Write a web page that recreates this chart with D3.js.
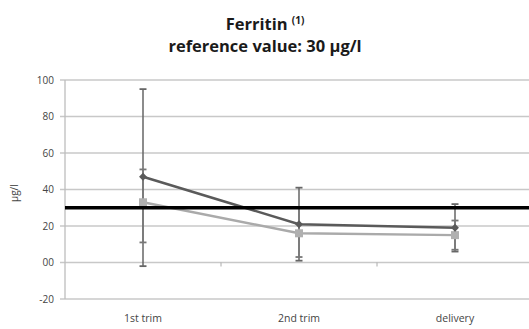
<!DOCTYPE html>
<html>
<head>
<meta charset="utf-8">
<script src="https://cdn.jsdelivr.net/npm/d3@7"></script>
<style>
  body { margin: 0; background: #fff; }
  text { font-family: "Open Sans", "Liberation Sans", sans-serif; }
</style>
</head>
<body>
<div class="chart"></div>
<script>
var categories = ["1st trim", "2nd trim", "delivery"];
var yTicks = [-20, 0, 20, 40, 60, 80, 100];
var yTickLabels = ["-20", "00", "20", "40", "60", "80", "100"];

// series 1 (dark, diamonds) with error bar ends
var mean1 = [47, 21, 19];
var hi1 = [95, 41, 32];
var lo1 = [-2, 1, 6];

// series 2 (light, squares)
var mean2 = [33, 16, 15];
var hi2 = [51, 30, 23];
var lo2 = [11, 3, 7];

var refValue = 30;

var width = 529, height = 329;

var svg = d3.select(".chart")
    .append("svg")
    .attr("width", width)
    .attr("height", height);

var x = d3.scaleBand()
    .domain(categories)
    .range([65, 533])
    .paddingInner(0)
    .paddingOuter(0);

var y = d3.scaleLinear()
    .domain([-20, 100])
    .range([299, 80]);

function cx(c) { return x(c) + x.bandwidth() / 2; }

// title
var title = svg.append("text")
    .attr("x", 265)
    .attr("y", 30)
    .attr("text-anchor", "middle")
    .style("font-weight", "bold")
    .style("font-size", "16.5px")
    .attr("fill", "#1a1a1a");
title.append("tspan").text("Ferritin ");
title.append("tspan")
    .attr("dy", -6)
    .style("font-size", "10px")
    .text("(1)");

svg.append("text")
    .attr("x", 265)
    .attr("y", 52)
    .attr("text-anchor", "middle")
    .style("font-weight", "bold")
    .style("font-size", "16.5px")
    .attr("fill", "#1a1a1a")
    .text("reference value: 30 µg/l");

// gridlines
svg.append("g")
    .selectAll("line")
    .data(yTicks)
    .enter()
    .append("line")
    .attr("x1", 60)
    .attr("x2", width)
    .attr("y1", function (d) { return y(d); })
    .attr("y2", function (d) { return y(d); })
    .attr("stroke", "#c8c8c8")
    .attr("stroke-width", 1.3);

// y axis line
svg.append("line")
    .attr("x1", 65).attr("x2", 65)
    .attr("y1", y(100)).attr("y2", y(-20))
    .attr("stroke", "#bdbdbd")
    .attr("stroke-width", 1.3);

// y tick labels
svg.append("g")
    .selectAll("text")
    .data(yTicks)
    .enter()
    .append("text")
    .attr("x", 54)
    .attr("y", function (d) { return y(d) + 3.5; })
    .attr("text-anchor", "end")
    .style("font-size", "10px")
    .attr("fill", "#444")
    .text(function (d, i) { return yTickLabels[i]; });

// y axis title
svg.append("text")
    .attr("transform", "translate(18," + y(38) + ") rotate(-90)")
    .attr("text-anchor", "middle")
    .style("font-size", "10px")
    .attr("fill", "#444")
    .text("µg/l");

// x axis ticks at zero line
svg.append("g")
    .selectAll("line")
    .data(categories.slice(1))
    .enter()
    .append("line")
    .attr("x1", function (d) { return x(d); })
    .attr("x2", function (d) { return x(d); })
    .attr("y1", y(0))
    .attr("y2", y(0) + 4)
    .attr("stroke", "#aaa");

// category labels
svg.append("g")
    .selectAll("text")
    .data(categories)
    .enter()
    .append("text")
    .attr("x", cx)
    .attr("y", 322)
    .attr("text-anchor", "middle")
    .style("font-size", "10.5px")
    .attr("fill", "#444")
    .text(function (d) { return d; });

// error bars
function errorBars(hi, lo, color) {
    var g = svg.append("g");
    categories.forEach(function (c, i) {
        var px = cx(c);
        g.append("line")
            .attr("x1", px).attr("x2", px)
            .attr("y1", y(hi[i])).attr("y2", y(lo[i]))
            .attr("stroke", color).attr("stroke-width", 1.5);
        [hi[i], lo[i]].forEach(function (v) {
            g.append("line")
                .attr("x1", px - 3.5).attr("x2", px + 3.5)
                .attr("y1", y(v)).attr("y2", y(v))
                .attr("stroke", color).attr("stroke-width", 1.8);
        });
    });
}
errorBars(hi1, lo1, "#666");
errorBars(hi2, lo2, "#777");

var line = d3.line()
    .x(function (d, i) { return cx(categories[i]); })
    .y(function (d) { return y(d); });

// series 2
svg.append("path")
    .datum(mean2)
    .attr("d", line)
    .attr("fill", "none")
    .attr("stroke", "#aaaaaa")
    .attr("stroke-width", 2.5);

svg.append("g")
    .selectAll("rect")
    .data(mean2)
    .enter()
    .append("rect")
    .attr("x", function (d, i) { return cx(categories[i]) - 4; })
    .attr("y", function (d) { return y(d) - 4; })
    .attr("width", 8)
    .attr("height", 8)
    .attr("fill", "#b0b0b0");

// series 1
svg.append("path")
    .datum(mean1)
    .attr("d", line)
    .attr("fill", "none")
    .attr("stroke", "#5a5a5a")
    .attr("stroke-width", 2.5);

svg.append("g")
    .selectAll("path")
    .data(mean1)
    .enter()
    .append("path")
    .attr("d", d3.symbol().type(d3.symbolDiamond2).size(40))
    .attr("transform", function (d, i) {
        return "translate(" + cx(categories[i]) + "," + y(d) + ")";
    })
    .attr("fill", "#5a5a5a");

// reference line
svg.append("line")
    .attr("x1", 65)
    .attr("x2", width)
    .attr("y1", y(refValue))
    .attr("y2", y(refValue))
    .attr("stroke", "#000")
    .attr("stroke-width", 3.5);
</script>
</body>
</html>
